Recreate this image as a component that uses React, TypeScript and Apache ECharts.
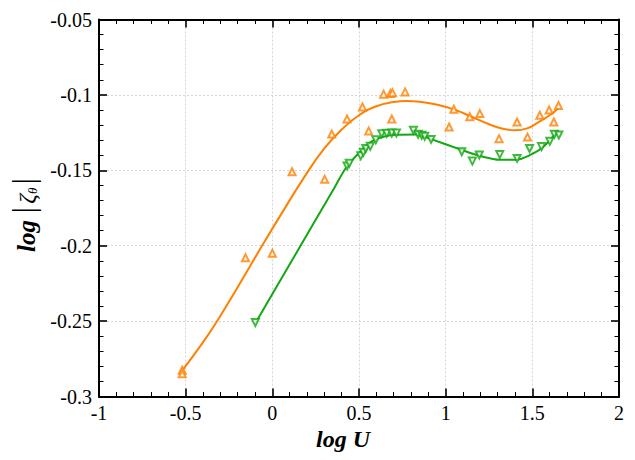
import React, { useEffect, useRef } from "react";
import * as echarts from "echarts";

// Orange (upward triangles) measured points
const orangeU = [-0.52, -0.52, -0.155, 0.0, 0.114, 0.302, 0.343, 0.431, 0.52, 0.556, 0.642, 0.681, 0.693, 0.689, 0.766, 1.02, 1.047, 1.139, 1.197, 1.308, 1.412, 1.472, 1.543, 1.597, 1.624, 1.651];
const orangeZeta = [-0.2826, -0.2849, -0.208, -0.205, -0.151, -0.156, -0.126, -0.116, -0.108, -0.124, -0.0995, -0.099, -0.0985, -0.116, -0.098, -0.1213, -0.1095, -0.1145, -0.1124, -0.129, -0.118, -0.128, -0.1135, -0.11, -0.118, -0.107];

// Orange fitted curve
const orangeFitU = [-0.515, -0.42, -0.319, -0.19, -0.06, 0.06, 0.19, 0.3, 0.4, 0.5, 0.6, 0.7, 0.774, 0.85, 0.95, 1.05, 1.15, 1.25, 1.33, 1.4, 1.47, 1.53, 1.6, 1.649];
const orangeFitZeta = [-0.282, -0.2673, -0.2501, -0.2256, -0.2002, -0.1774, -0.1535, -0.1355, -0.123, -0.1135, -0.1075, -0.1047, -0.104, -0.1045, -0.1065, -0.1098, -0.1145, -0.1195, -0.1225, -0.1235, -0.1222, -0.1185, -0.1135, -0.109];

// Green (downward triangles) measured points
const greenU = [-0.098, 0.431, 0.444, 0.51, 0.525, 0.539, 0.565, 0.597, 0.631, 0.66, 0.689, 0.716, 0.814, 0.841, 0.862, 0.879, 0.916, 1.093, 1.154, 1.194, 1.312, 1.412, 1.484, 1.553, 1.601, 1.627, 1.653];
const greenZeta = [-0.251, -0.1471, -0.1454, -0.1404, -0.1381, -0.1355, -0.1341, -0.1297, -0.1257, -0.1255, -0.1253, -0.1253, -0.1235, -0.1261, -0.1268, -0.1275, -0.1295, -0.1377, -0.1439, -0.1398, -0.1396, -0.1421, -0.1355, -0.1343, -0.1308, -0.1261, -0.1266];

// Green fitted curve
const greenFitU = [-0.098, 0.13, 0.36, 0.427, 0.504, 0.581, 0.716, 0.831, 0.908, 1.1, 1.2, 1.312, 1.408, 1.485, 1.562, 1.649];
const greenFitZeta = [-0.2514, -0.2065, -0.1612, -0.148, -0.138, -0.1303, -0.1264, -0.1262, -0.129, -0.1368, -0.1405, -0.143, -0.143, -0.14, -0.1346, -0.1235];

const ORANGE = "#ff8000";
const GREEN = "#12a812";
const FONT = "Liberation Serif";

const pairs = (xs: number[], ys: number[]) => xs.map((x, i) => [x, ys[i]]);

export default function App() {
  const ref = useRef<HTMLDivElement>(null);
  useEffect(() => {
    if (!ref.current) return;
    const chart = echarts.init(ref.current, undefined, { renderer: "svg" });
    const tickCommon = {
      axisLine: { show: true, onZero: false, lineStyle: { color: "#000", width: 2 } },
      axisTick: { show: true, inside: true, length: 8, lineStyle: { color: "#000", width: 1.6 } },
      minorTick: { show: true, splitNumber: 5, length: 4.5, lineStyle: { color: "#000", width: 1 } },
    };
    const gridLine = { show: true, lineStyle: { color: "#d4d4d4", type: [2, 2] as any, width: 1 } };
    chart.setOption({
      animation: false,
      backgroundColor: "#fff",
      grid: { left: 99, right: 16, top: 19.5, bottom: 63.5, containLabel: false },
      xAxis: [
        {
          type: "value",
          position: "bottom",
          min: -1,
          max: 2,
          interval: 0.5,
          ...tickCommon,
          splitLine: gridLine,
          axisLabel: { color: "#000", fontFamily: FONT, fontSize: 20, margin: 6 },
          name: "log U",
          nameLocation: "middle",
          nameGap: 30,
          nameTextStyle: {
            color: "#000",
            fontFamily: FONT,
            fontSize: 24,
            fontWeight: "bold",
            fontStyle: "italic",
            padding: [0, 32, 0, 0],
          },
        },
        {
          type: "value",
          position: "top",
          min: -1,
          max: 2,
          interval: 0.5,
          ...tickCommon,
          splitLine: { show: false },
          axisLabel: { show: false },
        },
      ],
      yAxis: [
        {
          type: "value",
          position: "left",
          min: -0.3,
          max: -0.05,
          interval: 0.05,
          ...tickCommon,
          splitLine: gridLine,
          axisLabel: { color: "#000", fontFamily: FONT, fontSize: 20, margin: 7 },
          name: "{b|log}  {bar||} {z|ζ}{s|θ} {bar||}",
          nameLocation: "middle",
          nameRotate: 90,
          nameGap: 56,
          nameTextStyle: {
            color: "#000",
            padding: [0, 14, 0, 0],
            rich: {
              b: { fontFamily: FONT, fontSize: 25, fontWeight: "bold", fontStyle: "italic", color: "#000", lineHeight: 32, verticalAlign: "bottom" },
              bar: { fontFamily: FONT, fontSize: 31, color: "#000", lineHeight: 32, verticalAlign: "bottom" },
              z: { fontFamily: FONT, fontSize: 24, fontStyle: "italic", color: "#000", lineHeight: 32, verticalAlign: "bottom" },
              s: { fontFamily: FONT, fontSize: 13, fontStyle: "italic", color: "#000", lineHeight: 12, verticalAlign: "bottom" },
            },
          },
        },
        {
          type: "value",
          position: "right",
          min: -0.3,
          max: -0.05,
          interval: 0.05,
          ...tickCommon,
          splitLine: { show: false },
          axisLabel: { show: false },
        },
      ],
      series: [
        {
          type: "line",
          xAxisIndex: 0,
          yAxisIndex: 0,
          data: pairs(orangeFitU, orangeFitZeta),
          smooth: 0.5,
          showSymbol: false,
          symbol: "none",
          lineStyle: { color: ORANGE, width: 2 },
          z: 2,
        },
        {
          type: "scatter",
          xAxisIndex: 0,
          yAxisIndex: 0,
          data: pairs(orangeU, orangeZeta),
          symbol: "emptyTriangle",
          symbolSize: 7,
          itemStyle: { color: ORANGE, borderColor: ORANGE, borderWidth: 1.3 },
          z: 3,
        },
        {
          type: "line",
          xAxisIndex: 0,
          yAxisIndex: 0,
          data: pairs(greenFitU, greenFitZeta),
          smooth: 0.3,
          showSymbol: false,
          symbol: "none",
          lineStyle: { color: GREEN, width: 2 },
          z: 2,
        },
        {
          type: "scatter",
          xAxisIndex: 0,
          yAxisIndex: 0,
          data: pairs(greenU, greenZeta),
          symbol: "emptyTriangle",
          symbolRotate: 180,
          symbolSize: 7,
          itemStyle: { color: GREEN, borderColor: GREEN, borderWidth: 1.3 },
          z: 3,
        },
      ],
    });
    return () => chart.dispose();
  }, []);
  return (
    <div
      ref={ref}
      style={{ position: "fixed", left: 0, top: 0, width: 635, height: 460, background: "#fff" }}
    />
  );
}
